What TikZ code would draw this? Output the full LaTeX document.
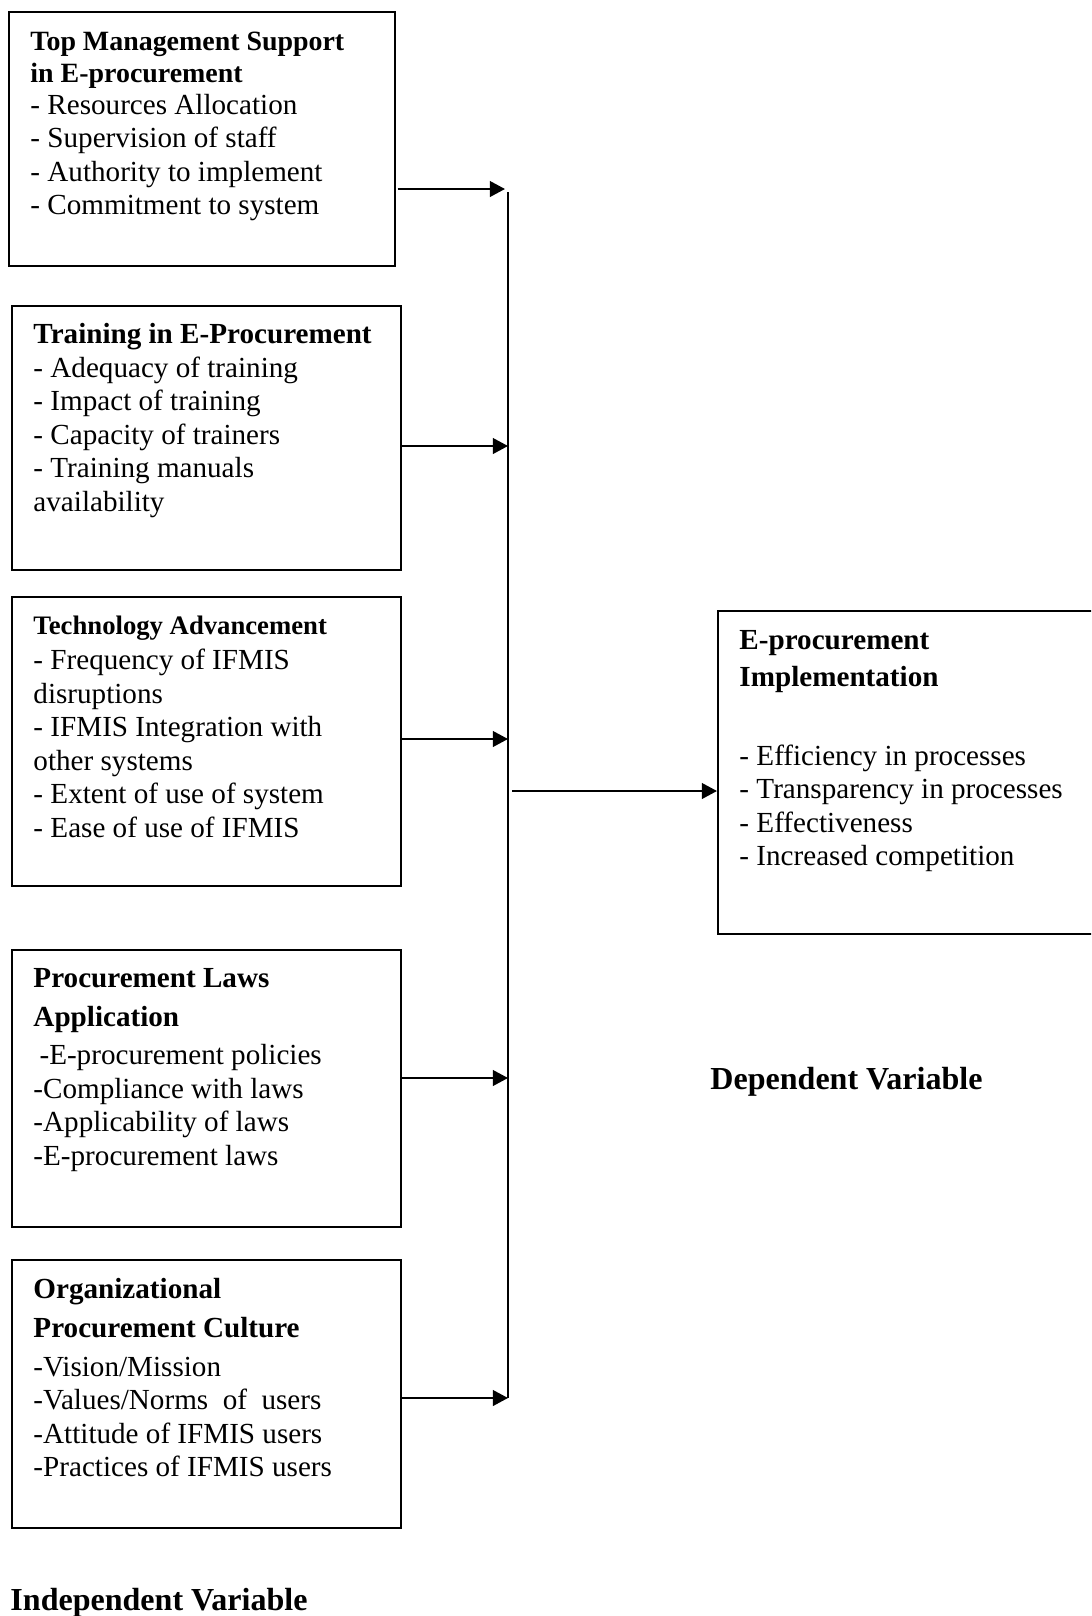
\documentclass[tikz,border=0pt]{standalone}
\usepackage{fontspec}
\setmainfont{Liberation Serif}
\usetikzlibrary{arrows.meta}

\newlength{\unitpx}
\setlength{\unitpx}{0.412pt}
\newcommand{\varhead}[1]{{\bfseries #1}}
\newcommand{\smallhead}[2]{{\fontsize{#1}{13}\selectfont\bfseries #2}}

\tikzset{
  varbox/.style={draw, line width=0.85pt, anchor=north west, inner sep=0pt},
  vartext/.style={anchor=north west, align=left, inner sep=0pt,
    font=\fontsize{12}{13.8}\selectfont},
  varlabel/.style={anchor=base west, inner sep=0pt,
    font=\fontsize{13.2}{15}\selectfont\bfseries},
  link/.style={-{Triangle[length=6.2pt, width=6.4pt]}, line width=0.9pt},
  busline/.style={line width=0.9pt},
}

\begin{document}
\begin{tikzpicture}[x=0.412pt, y=-0.412pt]
\useasboundingbox (0,0) rectangle (1091,1616);
\clip (0,0) rectangle (1091,1616);

\node[varbox, minimum width=386\unitpx, minimum height=254\unitpx] (topmgmt) at (8,11) {};
\node[varbox, minimum width=389\unitpx, minimum height=264\unitpx] (training) at (11,305) {};
\node[varbox, minimum width=389\unitpx, minimum height=289\unitpx] (techadv) at (11,596) {};
\node[varbox, minimum width=389\unitpx, minimum height=277\unitpx] (lawsapp) at (11,949) {};
\node[varbox, minimum width=389\unitpx, minimum height=268\unitpx] (orgculture) at (11,1259) {};
\node[varbox, minimum width=420\unitpx, minimum height=323\unitpx] (eprocimpl) at (717,610) {};

\node[vartext] (topmgmt-text) at (30,32) {\smallhead{11.5}{Top Management Support}\\[-1pt]
  \smallhead{11.5}{in E-procurement}\\[-0.6pt]
  - Resources Allocation\\
  - Supervision of staff\\
  - Authority to implement\\
  - Commitment to system};

\node[vartext] (training-text) at (33,323) {\varhead{Training in E-Procurement}\\
  - Adequacy of training\\
  - Impact of training\\
  - Capacity of trainers\\
  - Training manuals\\
  availability};

\node[vartext] (techadv-text) at (33,615) {\smallhead{11}{Technology Advancement}\\[1pt]
  - Frequency of IFMIS\\
  disruptions\\
  - IFMIS Integration with\\
  other systems\\
  - Extent of use of system\\
  - Ease of use of IFMIS};

\node[vartext] (lawsapp-text) at (33,968) {\varhead{Procurement Laws}\\[2.1pt]
  \varhead{Application}\\[2.1pt]
  \hspace{2.5pt}-E-procurement policies\\
  -Compliance with laws\\
  -Applicability of laws\\
  -E-procurement laws};

\node[vartext] (orgculture-text) at (33,1278) {\varhead{Organizational}\\[2.2pt]
  \varhead{Procurement Culture}\\[2.2pt]
  -Vision/Mission\\
  -Values/Norms\ \ of\ \ users\\
  -Attitude of IFMIS users\\
  -Practices of IFMIS users};

\node[vartext] (eprocimpl-text) at (739,630) {\varhead{E-procurement}\\[1.5pt]
  \varhead{Implementation}\\[18.5pt]
  - Efficiency in processes\\
  - Transparency in processes\\
  - Effectiveness\\
  - Increased competition};

\node[varlabel] (indep) at (10,1610) {Independent Variable};
\node[varlabel] (dep) at (710,1089) {Dependent Variable};

\coordinate (in1) at (505,189);
\coordinate (in2) at (508,446);
\coordinate (in3) at (508,739);
\coordinate (in4) at (508,1078);
\coordinate (in5) at (508,1398);
\coordinate (bustop) at (508,192);
\coordinate (busout) at (512,791);

\draw[busline] (bustop) -- (in5);

\draw[link] (topmgmt.east |- in1) ++(1.5,0) -- (in1);
\draw[link] (training.east |- in2) -- (in2);
\draw[link] (techadv.east |- in3) -- (in3);
\draw[link] (lawsapp.east |- in4) -- (in4);
\draw[link] (orgculture.east |- in5) -- (in5);
\draw[link] (busout) -- (eprocimpl.west |- busout);
\end{tikzpicture}
\end{document}
